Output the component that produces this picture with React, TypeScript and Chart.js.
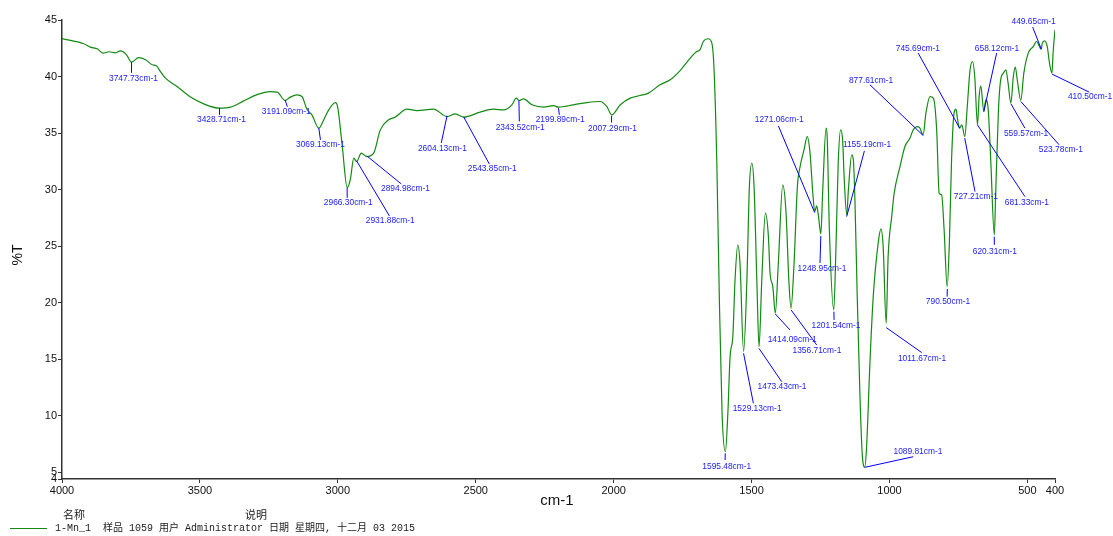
import React, { useEffect, useRef } from "react";
import { Chart, registerables } from "chart.js";

Chart.register(...registerables);

// Spectrum (wavenumber cm-1, %T)
const wavenumbers = [
  4000, 3921, 3897, 3872, 3851, 3830, 3806, 3788, 3766, 3748, 3722, 3697, 3673, 3658, 3643, 3625,
  3583, 3534, 3486, 3429, 3389, 3341, 3293, 3245, 3220, 3191, 3172, 3148, 3130, 3112, 3094, 3069,
  3054, 3033, 3009, 3001, 2985, 2966, 2955, 2942, 2932, 2915, 2895, 2870, 2846, 2816, 2792, 2749,
  2713, 2653, 2604, 2574, 2544, 2484, 2436, 2399, 2369, 2353, 2343, 2327, 2296, 2254, 2218, 2200,
  2146, 2097, 2049, 2025, 2007, 1976, 1940, 1904, 1874, 1832, 1795, 1760, 1720, 1700, 1687, 1675,
  1657, 1644, 1636, 1626, 1617, 1607, 1595, 1586, 1578, 1568, 1560, 1550, 1542, 1529, 1517, 1508,
  1499, 1491, 1481, 1473, 1463, 1450, 1439, 1433, 1423, 1414, 1403, 1387, 1375, 1365, 1357, 1346,
  1334, 1324, 1310, 1298, 1288, 1278, 1271, 1264, 1258, 1249, 1242, 1230, 1226, 1218, 1202, 1194,
  1186, 1177, 1170, 1164, 1155, 1149, 1137, 1131, 1125, 1117, 1107, 1099, 1090, 1083, 1071, 1059,
  1041, 1031, 1023, 1012, 1005, 992, 983, 962, 944, 926, 914, 901, 892, 878, 868, 853,
  841, 829, 820, 811, 802, 791, 783, 775, 766, 759, 753, 746, 738, 727, 718, 708,
  699, 691, 681, 675, 669, 658, 651, 642, 633, 620, 615, 605, 597, 587, 578, 570,
  560, 551, 544, 536, 524, 513, 497, 479, 467, 450, 446, 438, 428, 420, 411, 407,
  400,
];
const transmittance = [
  43.35, 42.9, 42.6, 42.45, 42.07, 42.19, 42.1, 42.27, 41.92, 41.27, 41.68, 41.48, 41.04, 40.95, 40.44, 39.86,
  39.12, 38.18, 37.58, 37.2, 37.29, 37.85, 38.4, 38.67, 38.62, 37.88, 38.18, 38.38, 38.23, 37.11, 36.61, 35.43,
  36.02, 37.05, 37.7, 37.35, 34.11, 30.18, 30.86, 32.78, 32.48, 33.22, 32.92, 33.22, 35.28, 36.17, 36.41, 37.11,
  36.99, 37.11, 36.46, 36.7, 36.41, 36.85, 37.11, 37.05, 37.5, 38.09, 37.88, 38.03, 37.5, 37.29, 37.43, 37.29,
  37.5, 37.7, 37.79, 37.35, 36.61, 37.5, 38.09, 38.32, 38.53, 39.27, 39.71, 40.5, 41.7, 42.2, 42.36, 43.1,
  43.34, 42.95, 40.59, 32.33, 20.53, 10.21, 6.81, 10.21, 15.22, 17.0, 22.0, 25.1, 23.49, 15.67, 22.0, 30.26,
  32.33, 30.26, 22.0, 16.1, 22.0, 27.91, 25.84, 22.6, 21.42, 19.06, 23.49, 30.42, 27.91, 22.0, 19.5, 23.49,
  30.26, 32.04, 33.51, 34.69, 33.22, 29.68, 28.05, 28.56, 27.76, 26.08, 29.97, 35.43, 34.69, 26.43, 19.35, 24.96,
  32.33, 35.28, 34.4, 30.86, 27.76, 29.97, 33.07, 32.62, 28.8, 20.53, 11.68, 6.67, 5.45, 7.26, 14.64, 20.53,
  25.26, 26.52, 24.96, 18.18, 24.07, 27.61, 29.68, 32.04, 33.81, 34.55, 35.28, 35.57, 35.52, 34.84, 36.76, 38.23,
  38.09, 35.28, 29.68, 29.53, 26.43, 21.42, 25.26, 32.63, 36.76, 37.11, 36.17, 35.43, 35.73, 34.69, 37.35, 40.59,
  41.33, 40.0, 35.73, 38.23, 39.18, 36.9, 37.94, 37.05, 32.63, 25.99, 29.68, 37.05, 39.71, 40.3, 40.59, 39.41,
  37.65, 40.0, 40.83, 39.56, 37.88, 40.3, 42.07, 42.65, 43.1, 42.42, 42.95, 43.16, 42.65, 41.19, 40.3, 42.07,
  44.13,
];

// Axis ticks
const xTickValues = [4000, 3500, 3000, 2500, 2000, 1500, 1000, 500, 400];
const yTickValues = [4.4, 5, 10, 15, 20, 25, 30, 35, 40, 45];
const yTickLabels = ["4", "5", "10", "15", "20", "25", "30", "35", "40", "45"];

// Peak annotations: peak position, leader end, label centre (all in cm-1 / %T)
const peakWn = [
  3747.73, 3428.71, 3191.09, 3069.13, 2966.3, 2931.88, 2894.98, 2604.13, 2543.85, 2343.52, 2199.89, 2007.29,
  1595.48, 1529.13, 1473.43, 1414.09, 1356.71, 1271.06, 1248.95, 1201.54, 1155.19, 1089.81, 1011.67, 877.61,
  745.69, 790.5, 727.21, 681.33, 658.12, 620.31, 559.57, 523.78, 449.65, 410.5,
];
const peakT = [
  41.3, 37.23, 37.94, 35.46, 30.15, 32.54, 32.98, 36.52, 36.43, 37.88, 37.2, 36.52,
  6.67, 15.52, 15.96, 19.0, 19.35, 27.96, 25.9, 19.2, 27.61, 5.43, 17.79, 34.78,
  35.43, 21.21, 34.55, 35.73, 36.9, 25.84, 37.58, 37.79, 42.42, 40.21,
];
const leaderEndWn = [
  3748, 3429, 3183, 3063, 2966, 2813, 2770, 2625, 2451, 2342, 2197, 2008,
  1596, 1493.5, 1391, 1360.5, 1264, 1403, 1252, 1201, 1091, 914, 883, 1071,
  896, 791, 690, 509, 611.6, 620, 509, 385, 481, 276,
];
const leaderEndT = [
  40.33, 36.61, 37.32, 34.4, 29.27, 27.67, 30.5, 34.13, 32.27, 36.02, 36.61, 35.93,
  6.08, 11.1, 13.01, 17.58, 16.26, 35.64, 23.51, 18.47, 33.42, 6.37, 15.58, 39.27,
  42.07, 20.53, 29.82, 29.38, 42.07, 25.11, 35.43, 33.96, 44.37, 38.62,
];
const labelWn = [
  3741, 3422, 3187, 3063, 2962, 2810, 2755, 2621, 2440, 2339, 2194, 2004,
  1590, 1480, 1389.5, 1353, 1263, 1400, 1244.5, 1194, 1081.5, 897, 882, 1067,
  897, 788, 687, 502, 610.5, 618, 505, 378.6, 477.5, 273,
];
const labelT = [
  39.8, 36.17, 36.88, 33.96, 28.82, 27.23, 30.06, 33.6, 31.83, 35.49, 36.14, 35.4,
  5.49, 10.59, 12.54, 16.7, 15.72, 36.17, 22.98, 17.94, 33.96, 6.79, 15.02, 39.62,
  42.45, 20.06, 29.35, 28.82, 42.45, 24.49, 34.93, 33.51, 44.84, 38.2,
];

const annotationPlugin = {
  id: "peakLabels",
  afterDatasetsDraw(chart: any) {
    const { ctx, scales } = chart;
    const xs = scales.x;
    const ys = scales.y;
    ctx.save();
    ctx.strokeStyle = "#0000ff";
    ctx.lineWidth = 1;
    ctx.fillStyle = "#1a1aff";
    ctx.font = "8.4px 'Liberation Sans', Arial, sans-serif";
    ctx.textAlign = "center";
    ctx.textBaseline = "middle";
    for (let i = 0; i < peakWn.length; i++) {
      const x0 = xs.getPixelForValue(peakWn[i]);
      const y0 = ys.getPixelForValue(peakT[i]);
      const x1 = xs.getPixelForValue(leaderEndWn[i]);
      const y1 = ys.getPixelForValue(leaderEndT[i]);
      ctx.beginPath();
      ctx.moveTo(x0, y0);
      ctx.lineTo(x1, y1);
      ctx.stroke();
      const tx = xs.getPixelForValue(labelWn[i]);
      const ty = ys.getPixelForValue(labelT[i]);
      ctx.fillText(peakWn[i].toFixed(2) + "cm-1", tx, ty);
    }
    // axis titles
    ctx.fillStyle = "#111";
    ctx.font = "15px 'Liberation Sans', Arial, sans-serif";
    ctx.fillText("cm-1", 557, 501);
    ctx.save();
    ctx.translate(18, 255);
    ctx.rotate(-Math.PI / 2);
    ctx.font = "14px 'Liberation Sans', Arial, sans-serif";
    ctx.fillText("%T", 0, 0);
    ctx.restore();
    ctx.restore();
  },
};

export default function App() {
  const canvasRef = useRef<HTMLCanvasElement>(null);

  useEffect(() => {
    if (!canvasRef.current) return;
    const points = wavenumbers.map((w, i) => ({ x: w, y: transmittance[i] }));
    const chart = new Chart(canvasRef.current, {
      type: "line",
      data: {
        datasets: [
          {
            data: points,
            borderColor: "#138a13",
            borderWidth: 1.2,
            pointRadius: 0,
            cubicInterpolationMode: "monotone",
            fill: false,
          },
        ],
      },
      options: {
        animation: false,
        responsive: false,
        layout: { padding: { top: 20, right: 58, left: 0, bottom: 0 } },
        plugins: { legend: { display: false }, tooltip: { enabled: false } },
        scales: {
          x: {
            type: "linear",
            reverse: true,
            min: 400,
            max: 4000,
            afterBuildTicks: (s: any) => {
              s.ticks = xTickValues.map((v) => ({ value: v }));
            },
            afterFit: (s: any) => {
              s.height = 57;
            },
            grid: { drawOnChartArea: false, drawTicks: true, tickLength: 4, color: "#333", lineWidth: 1 },
            border: { display: true, color: "#333", width: 1.5 },
            ticks: {
              autoSkip: false,
              maxRotation: 0,
              padding: 1,
              color: "#111",
              font: { family: "'Liberation Sans', Arial, sans-serif", size: 11 },
              callback: (v: any) => String(v),
            },
          },
          y: {
            type: "linear",
            min: 4.4,
            max: 45,
            afterBuildTicks: (s: any) => {
              s.ticks = yTickValues.map((v) => ({ value: v }));
            },
            afterFit: (s: any) => {
              s.width = 62;
            },
            grid: { drawOnChartArea: false, drawTicks: true, tickLength: 4, color: "#333", lineWidth: 1 },
            border: { display: true, color: "#333", width: 1.5 },
            ticks: {
              autoSkip: false,
              padding: 1,
              color: "#111",
              font: { family: "'Liberation Sans', Arial, sans-serif", size: 11 },
              callback: (v: any) => {
                const idx = yTickValues.indexOf(v);
                return idx >= 0 ? yTickLabels[idx] : "";
              },
            },
          },
        },
      },
      plugins: [annotationPlugin],
    } as any);
    return () => chart.destroy();
  }, []);

  const cjk = "'Noto Sans CJK SC', sans-serif";
  return (
    <div style={{ position: "absolute", left: 0, top: 0, width: 1113, height: 536, background: "#fff" }}>
      <canvas ref={canvasRef} width={1113} height={536} style={{ display: "block" }} />
      <div style={{ position: "absolute", left: 63, top: 507, fontFamily: cjk, fontSize: 11, lineHeight: "14px", color: "#222" }}>
        名称
      </div>
      <div style={{ position: "absolute", left: 245, top: 507, fontFamily: cjk, fontSize: 11, lineHeight: "14px", color: "#222" }}>
        说明
      </div>
      <div style={{ position: "absolute", left: 10, top: 528, width: 37, height: 0, borderTop: "1px solid #138a13" }} />
      <div
        style={{
          position: "absolute",
          left: 55,
          top: 522,
          fontFamily: "'Liberation Mono', " + cjk,
          fontSize: 10,
          lineHeight: "14px",
          whiteSpace: "pre",
          color: "#222",
        }}
      >
        {"1-Mn_1  样品 1059 用户 Administrator 日期 星期四, 十二月 03 2015"}
      </div>
    </div>
  );
}
